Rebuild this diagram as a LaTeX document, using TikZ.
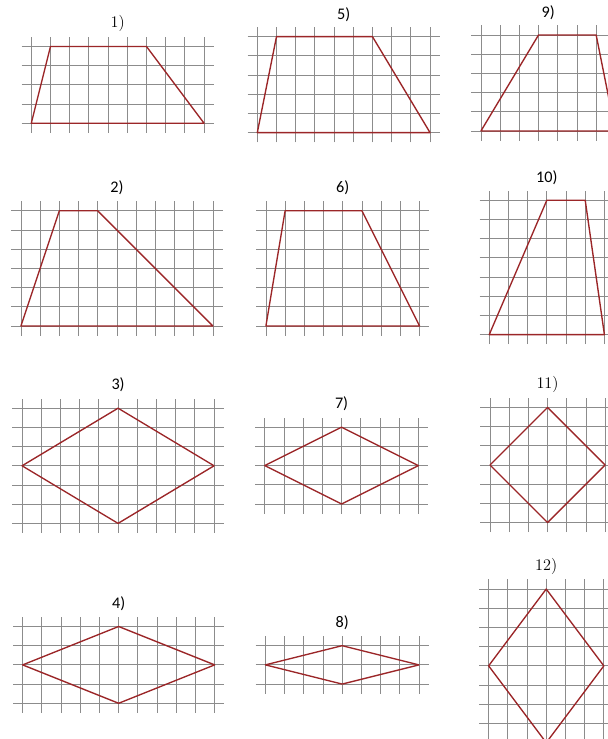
\documentclass[tikz,border=0pt]{standalone}
\usepackage{fontspec}
\setsansfont{Carlito}
\definecolor{gridgray}{RGB}{140,140,140}
\definecolor{shapered}{RGB}{155,38,40}
\tikzset{
  gridline/.style={gridgray, line width=0.6pt},
  figline/.style={shapered, line width=1pt, line join=round},
  numlabel/.style={font=\sffamily\large},
  numlabelserif/.style={font=\rmfamily\large},
}
% grid of #1 x #2 cells, lines run half a cell past the edges
\newcommand{\gridpanel}[2]{%
  \foreach \i in {0,...,#1} \draw[gridline] (\i,-0.5) -- (\i,#2+0.5);
  \foreach \j in {0,...,#2} \draw[gridline] (-0.5,\j) -- (#1+0.5,\j);
}

\begin{document}
\begin{tikzpicture}[x=0.5cm, y=0.5cm]
    \useasboundingbox (0,0) rectangle (31.667,38.49);

    % Trapezoids
    \begin{scope}[shift={(1.63,32.07)}]
        \gridpanel{9}{4}
        \draw[figline] (0,0) -- (1,4) -- (6,4) -- (9,0) -- cycle;
        \node[numlabelserif] (l1) at (4.5,5.2) {1)};
    \end{scope}
    \begin{scope}[shift={(13.40,31.58)}]
        \gridpanel{9}{5}
        \draw[figline] (0,0) -- (1,5) -- (6,5) -- (9,0) -- cycle;
        \node[numlabel] (l5) at (4.5,6.15) {5)};
    \end{scope}
    \begin{scope}[shift={(25.05,31.67)}]
        \gridpanel{7}{5}
        \draw[figline] (0,0) -- (3,5) -- (6,5) -- (7,0) -- cycle;
        \node[numlabel] (l9) at (3.5,6.15) {9)};
    \end{scope}

    \begin{scope}[shift={(1.09,21.51)}]
        \gridpanel{10}{6}
        \draw[figline] (0,0) -- (2,6) -- (4,6) -- (10,0) -- cycle;
        \node[numlabel] (l2) at (5,7.2) {2)};
    \end{scope}
    \begin{scope}[shift={(13.85,21.51)}]
        \gridpanel{8}{6}
        \draw[figline] (0,0) -- (1,6) -- (5,6) -- (8,0) -- cycle;
        \node[numlabel] (l6) at (4,7.2) {6)};
    \end{scope}
    \begin{scope}[shift={(25.48,21.06)}]
        \gridpanel{6}{7}
        \draw[figline] (0,0) -- (3,7) -- (5,7) -- (6,0) -- cycle;
        \node[numlabel] (l10) at (3,8.2) {10)};
    \end{scope}

    % Rhombi
    \begin{scope}[shift={(1.15,11.23)}]
        \gridpanel{10}{6}
        \draw[figline] (0,3) -- (5,6) -- (10,3) -- (5,0) -- cycle;
        \node[numlabel] (l3) at (5,7.2) {3)};
    \end{scope}
    \begin{scope}[shift={(13.79,12.24)}]
        \gridpanel{8}{4}
        \draw[figline] (0,2) -- (4,4) -- (8,2) -- (4,0) -- cycle;
        \node[numlabel] (l7) at (4,5.2) {7)};
    \end{scope}
    \begin{scope}[shift={(25.52,11.27)}]
        \gridpanel{6}{6}
        \draw[figline] (0,3) -- (3,6) -- (6,3) -- (3,0) -- cycle;
        \node[numlabelserif] (l11) at (3,7.2) {11)};
    \end{scope}

    \begin{scope}[shift={(1.18,1.86)}]
        \gridpanel{10}{4}
        \draw[figline] (0,2) -- (5,4) -- (10,2) -- (5,0) -- cycle;
        \node[numlabel] (l4) at (5,5.2) {4)};
    \end{scope}
    \begin{scope}[shift={(13.82,2.86)}]
        \gridpanel{8}{2}
        \draw[figline] (0,1) -- (4,2) -- (8,1) -- (4,0) -- cycle;
        \node[numlabel] (l8) at (4,3.2) {8)};
    \end{scope}
    \begin{scope}[shift={(25.45,-0.19)}]
        \gridpanel{6}{8}
        \draw[figline] (0,4) -- (3,8) -- (6,4) -- (3,0) -- cycle;
        \node[numlabelserif] (l12) at (3,9.2) {12)};
    \end{scope}
\end{tikzpicture}
\end{document}
